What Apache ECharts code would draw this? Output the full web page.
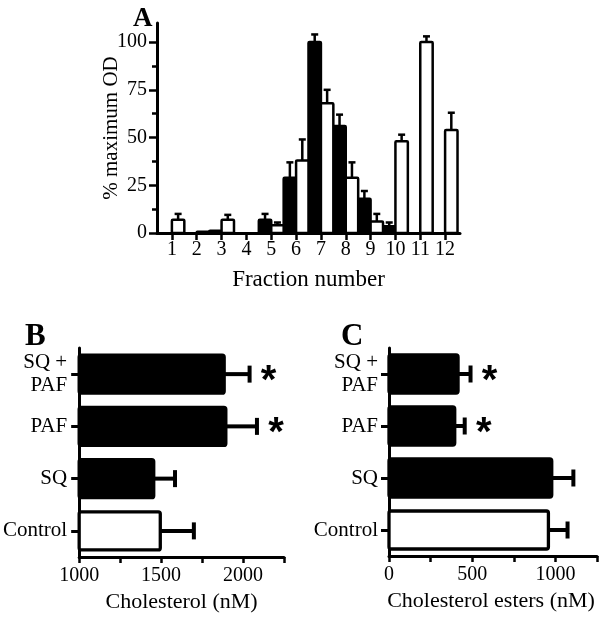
<!DOCTYPE html>
<html><head><meta charset="utf-8">
<script src="https://cdn.jsdelivr.net/npm/echarts@6/dist/echarts.min.js"></script>
<style>html,body{margin:0;padding:0;background:#fff}#c{width:600px;height:618px}</style>
</head><body><div id="c"></div>
<script>
// ---- Panel A data ----
const fractions = [1, 2, 3, 4, 5, 6, 7, 8, 9, 10, 11, 12];
const blackValues = [0, 0, 1.2, 0, 7, 29, 100, 56, 18, 3.5, 0, 0];
const blackErrors = [0, 0, 0, 0, 3, 8, 4, 6, 4, 2, 0, 0];
const whiteValues = [7, 0.7, 7, 0, 4, 38, 68, 29, 6, 48, 100, 54];
const whiteErrors = [3, 0, 2.5, 0, 1.5, 11, 7, 8, 4, 3.5, 3, 9];
const yTicksA = [0, 25, 50, 75, 100];
const yMinorTicksA = [12.5, 37.5, 62.5, 87.5];

// ---- Panels B and C data ----
const groups = ['Control', 'SQ', 'PAF', 'SQ +\nPAF'];
const controlGroup = 'Control';
const cholValues = [1495, 1455, 1895, 1885];
const cholErrors = [205, 130, 190, 155];
const esterValues = [958, 978, 395, 415];
const esterErrors = [115, 130, 60, 75];
const significant = [0, 0, 1, 1];

const FONT = '"Liberation Serif","Times New Roman",serif';
const chart = echarts.init(document.getElementById('c'), null, {renderer: 'canvas'});

function barsA(values, errors, side, fill) {
  return {
    type: 'custom', xAxisIndex: 0, yAxisIndex: 0, clip: false,
    data: fractions.map((f, i) => [f, values[i], errors[i]]),
    renderItem(params, api) {
      const x = api.value(0), v = api.value(1), e = api.value(2);
      if (!v) return null;
      const base = api.coord([x, 0]);
      const top = api.coord([x, v]);
      const half = api.size([0.5, 0])[0];
      const x0 = side < 0 ? base[0] - half : base[0];
      const cx = x0 + half / 2;
      const children = [];
      if (e > 0) {
        const et = api.coord([x, v + e]);
        children.push({type: 'line', shape: {x1: cx, y1: top[1], x2: cx, y2: et[1]}, style: {stroke: '#000', lineWidth: 2.5}});
        children.push({type: 'line', shape: {x1: cx - 3.5, y1: et[1], x2: cx + 3.5, y2: et[1]}, style: {stroke: '#000', lineWidth: 2.5}});
      }
      children.push({type: 'rect', shape: {x: x0, y: top[1], width: half, height: base[1] - top[1], r: 1}, style: {fill: fill, stroke: '#000', lineWidth: 2.5}});
      return {type: 'group', children};
    }
  };
}

function hbars(values, errors, xi, yi, minVal) {
  return {
    type: 'custom', xAxisIndex: xi, yAxisIndex: yi, clip: false,
    data: groups.map((g, i) => [values[i], i, errors[i], significant[i]]),
    renderItem(params, api) {
      const v = api.value(0), c = api.value(1), e = api.value(2), sig = api.value(3);
      const start = api.coord([minVal, c]);
      const end = api.coord([v, c]);
      const ee = api.coord([v + e, c]);
      const h = api.size([0, 1])[1] * 0.73;
      const y = end[1];
      const isControl = groups[c] === controlGroup;
      const children = [
        {type: 'line', shape: {x1: end[0], y1: y, x2: ee[0], y2: y}, style: {stroke: '#000', lineWidth: 4}},
        {type: 'line', shape: {x1: ee[0], y1: y - 8.5, x2: ee[0], y2: y + 8.5}, style: {stroke: '#000', lineWidth: 4}},
        {type: 'rect', shape: {x: start[0], y: y - h / 2, width: end[0] - start[0], height: h, r: 2},
         style: {fill: isControl ? '#fff' : '#000', stroke: '#000', lineWidth: 3.3}}
      ];
      if (sig) {
        children.push({type: 'text', style: {text: '*', x: ee[0] + 19, y: y + 8, align: 'center', verticalAlign: 'middle',
          font: 'bold 40px "Liberation Sans", Arial, sans-serif', fill: '#000'}});
      }
      return {type: 'group', children};
    }
  };
}

const axisLine = {show: true, lineStyle: {color: '#000', width: 3}};
const lbl = {color: '#000', fontFamily: FONT, fontSize: 20};

chart.setOption({
  animation: false,
  backgroundColor: '#fff',
  title: [
    {text: 'A', left: 128, top: 1, textStyle: {fontFamily: FONT, fontWeight: 'bold', fontSize: 27, color: '#000'}},
    {text: 'B', left: 20, top: 316, textStyle: {fontFamily: FONT, fontWeight: 'bold', fontSize: 31, color: '#000'}},
    {text: 'C', left: 336, top: 316, textStyle: {fontFamily: FONT, fontWeight: 'bold', fontSize: 31, color: '#000'}}
  ],
  grid: [
    {left: 157, top: 23, width: 303, height: 210},
    {left: 75, top: 348, width: 209, height: 209},
    {left: 389, top: 348, right: -6, height: 208}
  ],
  xAxis: [
    {type: 'value', gridIndex: 0, min: 0.4, max: 12.6, axisLine,
     axisTick: {show: true, customValues: fractions, length: 7, lineStyle: {color: '#000', width: 2.5}},
     axisLabel: Object.assign({customValues: fractions, margin: 7}, lbl),
     splitLine: {show: false},
     name: 'Fraction number', nameLocation: 'middle', nameGap: 35, nameMoveOverlap: false,
     nameTextStyle: {fontFamily: FONT, fontSize: 23, color: '#000'}},
    {type: 'value', gridIndex: 1, min: 1000, max: 2250, interval: 250, axisLine,
     axisTick: {show: true, length: 6, lineStyle: {color: '#000', width: 2.5}},
     axisLabel: Object.assign({margin: 9, formatter: v => (v % 500 === 0 ? String(v) : '')}, lbl),
     splitLine: {show: false},
     name: 'Cholesterol (nM)', nameLocation: 'middle', nameGap: 34, nameMoveOverlap: false,
     nameTextStyle: {fontFamily: FONT, fontSize: 22, color: '#000'}},
    {type: 'value', gridIndex: 2, min: 0, max: 1250, interval: 250, axisLine,
     axisTick: {show: true, length: 6, lineStyle: {color: '#000', width: 2.5}},
     axisLabel: Object.assign({margin: 9, formatter: v => (v % 500 === 0 && v < 1250 ? String(v) : '')}, lbl),
     splitLine: {show: false},
     name: 'Cholesterol esters (nM)', nameLocation: 'middle', nameGap: 34, nameMoveOverlap: false,
     nameTextStyle: {fontFamily: FONT, fontSize: 22, color: '#000', padding: [0, 4, 0, 0]}}
  ],
  yAxis: [
    {type: 'value', gridIndex: 0, position: 'left', min: 0, max: 110, axisLine,
     axisTick: {show: true, customValues: yTicksA, length: 8, lineStyle: {color: '#000', width: 2.5}},
     axisLabel: Object.assign({customValues: yTicksA, margin: 10}, lbl),
     splitLine: {show: false},
     name: '% maximum OD', nameLocation: 'middle', nameGap: 35, nameMoveOverlap: false,
     nameTextStyle: {fontFamily: FONT, fontSize: 21, color: '#000'}},
    {type: 'value', gridIndex: 0, position: 'left', min: 0, max: 110, axisLine: {show: false},
     axisTick: {show: true, customValues: yMinorTicksA, length: 5, lineStyle: {color: '#000', width: 2.5}},
     axisLabel: {show: false}, splitLine: {show: false}},
    {type: 'category', gridIndex: 1, data: groups, axisLine,
     axisTick: {show: true, alignWithLabel: true, length: 8, lineStyle: {color: '#000', width: 3}},
     axisLabel: Object.assign({margin: 12, lineHeight: 23, fontSize: 21}, {color: '#000', fontFamily: FONT})},
    {type: 'category', gridIndex: 2, data: groups, axisLine,
     axisTick: {show: true, alignWithLabel: true, length: 8, lineStyle: {color: '#000', width: 3}},
     axisLabel: Object.assign({margin: 11, lineHeight: 23, fontSize: 21}, {color: '#000', fontFamily: FONT})}
  ],
  series: [
    barsA(blackValues, blackErrors, -1, '#000'),
    barsA(whiteValues, whiteErrors, 1, '#fff'),
    hbars(cholValues, cholErrors, 1, 2, 1000),
    hbars(esterValues, esterErrors, 2, 3, 0)
  ]
});
</script>
</body></html>
